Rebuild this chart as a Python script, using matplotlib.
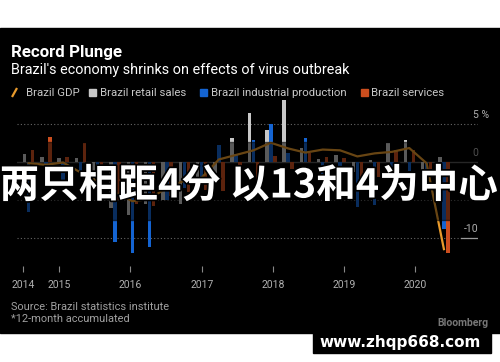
import numpy as np
import matplotlib
matplotlib.use('Agg')
import matplotlib.pyplot as plt
from matplotlib.patches import Rectangle
import matplotlib.patheffects as pe

# quarterly data, 2014 Q2 .. 2020 Q2 (% change)
quarters = ['2014Q2', '2014Q3', '2014Q4', '2015Q1', '2015Q2', '2015Q3', '2015Q4',
            '2016Q1', '2016Q2', '2016Q3', '2016Q4', '2017Q1', '2017Q2', '2017Q3',
            '2017Q4', '2018Q1', '2018Q2', '2018Q3', '2018Q4', '2019Q1', '2019Q2',
            '2019Q3', '2019Q4', '2020Q1', '2020Q2']
gdp = [-0.2, -0.4, -0.1, -1.4, -2.6, -4.0, -5.2, -4.9, -3.4, -2.5, -2.1, 0.3, 0.9,
       1.5, 2.5, 1.75, 1.2, 1.6, 1.5, 0.7, 1.1, 1.3, 1.8, -0.2, -11.5]
retail = [1.0, 0.6, 0.45, 0.45, -3.5, -6.1, -7.0, -5.5, -5.0, -5.5, -3.3, -1.5, 3.1,
          6.4, 4.2, 8.1, 1.75, 0.3, 0.9, -1.4, 0.2, 2.4, 2.8, -1.1, 0.6]
industrial = [-6.6, -1.3, -2.4, -1.3, -4.5, -10.6, -12.0, -11.2, -5.0, -3.5, -2.0, 2.2,
              1.0, 2.8, 5.0, 1.1, 3.1, -2.0, -1.5, -6.0, -5.7, -1.1, -1.2, -1.6, -8.9]
services = [1.6, 3.2, 0.66, 2.4, -3.0, -5.0, -5.5, -5.8, -4.5, -4.0, -3.7, -3.9, -3.0,
            -3.1, 0.75, -0.9, 1.1, 0.66, 0.45, -2.3, -2.0, 1.6, 1.6, -2.0, -12.0]
years = ['2014', '2015', '2016', '2017', '2018', '2019', '2020']
year_pos = [-0.32, 1.76, 5.86, 10.02, 14.12, 18.23, 22.33]
y_ticks = [5, 0, -5, -10]
y_labels = ['5 %', '0', '-5', '-10']

plt.rcParams['font.family'] = ['Roboto', 'DejaVu Sans']

W, H = 500, 362
fig = plt.figure(figsize=(5, 3.62), dpi=100, facecolor='white')

# background + header/footer texts, in pixel coords
bg = fig.add_axes([0, 0, 1, 1])
bg.set_xlim(0, W)
bg.set_ylim(H, 0)
bg.axis('off')
bg.add_patch(Rectangle((0, 28), W, 305, color='black'))
bg.add_patch(Rectangle((313, 333), 178, 20, color='black'))

bg.text(11, 57.5, 'Record Plunge', fontsize=12.2, weight='bold', color='white', va='baseline')
bg.text(11, 74, "Brazil's economy shrinks on effects of virus outbreak", fontsize=10.4,
        color='white', va='baseline')

# legend
lc = '#c8c8c8'
bg.plot([12, 17], [97, 88], color='#e89a2c', lw=1.6, solid_capstyle='butt')
bg.text(26, 92.5, 'Brazil GDP', fontsize=8.2, color=lc, va='center')
bg.add_patch(Rectangle((89, 89), 7, 7, color='#c8c8c8'))
bg.text(100, 92.5, 'Brazil retail sales', fontsize=8.2, color=lc, va='center')
bg.add_patch(Rectangle((200, 89), 7, 7, color='#1464d2'))
bg.text(211, 92.5, 'Brazil industrial production', fontsize=8.2, color=lc, va='center')
bg.add_patch(Rectangle((361, 89), 7, 7, color='#cc4e1e'))
bg.text(371, 92.5, 'Brazil services', fontsize=8.2, color=lc, va='center')

bg.text(11, 310, 'Source: Brazil statistics institute', fontsize=7.9, color='#a0a0a0', va='baseline')
bg.text(11, 322, '*12-month accumulated', fontsize=7.9, color='#a0a0a0', va='baseline')
bg.text(489, 326, 'Bloomberg', fontsize=7.5, weight='bold', color='#777777', ha='right', va='baseline')

# chart
ax = fig.add_axes([17 / W, 1 - 266 / H, 461 / W, (266 - 95) / H])
ax.set_facecolor('none')
x = np.arange(len(quarters))
ax.axhline(0, color='#555555', lw=1, zorder=0.5)
for v in [5, -5, -10]:
    ax.axhline(v, color='#666666', lw=0.8, ls=(0, (1, 2)), zorder=0)
# short solid piece under the lowest label
ax.axhline(-10, xmin=0.963, xmax=1.0, color='#999999', lw=0.9, zorder=0.6)
ax.bar(x - 0.23, retail, 0.2, color='#c8c8c8', zorder=2)
ax.bar(x, industrial, 0.2, color='#1464d2', zorder=2)
ax.bar(x + 0.23, services, 0.2, color='#cc4e1e', zorder=2)
ax.plot(x, gdp, color='#e89a2c', lw=1.6, zorder=3)
ax.set_xlim(-0.664, 25.97)
ax.set_ylim(-13.72, 8.78)
for s in ax.spines.values():
    s.set_visible(False)
ax.set_yticks([])
ax.set_xticks(year_pos)
ax.set_xticklabels(years)
ax.tick_params(axis='x', color='#888888', length=4, width=0.8, pad=6, labelsize=7.5,
               labelcolor='#b0b0b0')
for v, lbl in zip(y_ticks, y_labels):
    if lbl.endswith('%'):
        ax.annotate(lbl, xy=(0.989, v), xycoords=('axes fraction', 'data'), xytext=(0, 3),
                    textcoords='offset points', ha='left', va='bottom', fontsize=7.5,
                    color='#b0b0b0')
    else:
        ax.annotate(lbl, xy=(1.0, v), xycoords=('axes fraction', 'data'), xytext=(0, 3),
                    textcoords='offset points', ha='right', va='bottom', fontsize=7.5,
                    color='#b0b0b0')

# overlay: dark band, big caption, watermark
top = fig.add_axes([0, 0, 1, 1])
top.patch.set_alpha(0)
top.set_xlim(0, W)
top.set_ylim(H, 0)
top.axis('off')
top.add_patch(Rectangle((0, 142), W, 78, color='black', alpha=0.55))
top.text(249, 186, '两只相距4分 以13和4为中心', fontsize=28.5, weight='bold', color='white',
         family=['Noto Sans CJK SC', 'DejaVu Sans'], ha='center', va='center',
         path_effects=[pe.withStroke(linewidth=2.5, foreground='black')])
top.text(400, 342, 'www.zhqp668.com', fontsize=11, weight='bold', color='white',
         family='DejaVu Sans', ha='center', va='center')

fig.savefig('out.png', dpi=100, facecolor='white')
